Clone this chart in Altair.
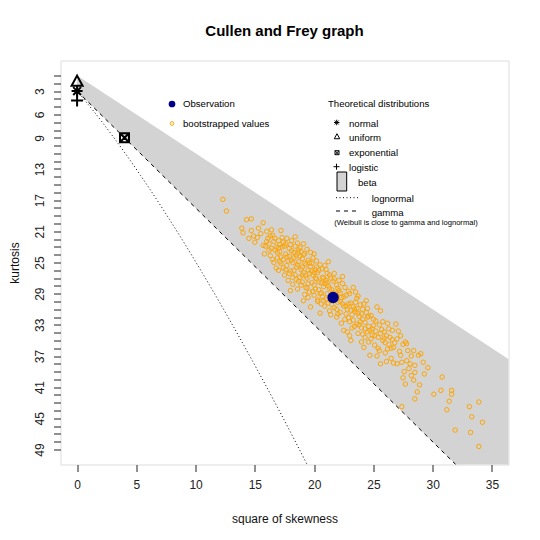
import altair as alt
import pandas as pd

FONT = "Liberation Sans"

title_text = "Cullen and Frey graph"
x_title = "square of skewness"
y_title = "kurtosis"

# observed distribution
obs_s2 = [21.6]
obs_kurt = [29.5]

# bootstrapped values (square of skewness, kurtosis)
boot_pairs = [
    (12.3, 16.9), (12.6, 18.4), (13.9, 20.6), (14.0, 21.2), (14.3, 19.5), (14.5, 21.9),
    (14.7, 20.9), (14.7, 19.4), (14.9, 21.6), (15.0, 22.4), (15.3, 20.6), (15.5, 21.3),
    (15.7, 19.9), (15.7, 22.8), (15.8, 23.9), (16.0, 21.0), (16.1, 21.9), (16.2, 22.6),
    (16.3, 24.1), (16.4, 23.2), (16.5, 21.5), (16.6, 25.0), (16.7, 21.9), (16.8, 23.0),
    (16.9, 24.4), (17.0, 22.2), (17.0, 26.0), (17.1, 23.6), (17.2, 25.1), (17.3, 21.8),
    (17.4, 24.6), (17.5, 22.9), (17.5, 26.6), (17.6, 23.9), (17.7, 21.9), (17.7, 25.4),
    (17.8, 27.3), (17.9, 24.2), (18.0, 22.7), (18.0, 26.1), (18.1, 23.5), (18.2, 25.0),
    (18.2, 27.8), (18.3, 24.4), (18.4, 22.9), (18.4, 26.6), (18.5, 25.6), (18.6, 23.8),
    (18.6, 28.4), (18.7, 24.9), (18.8, 26.9), (18.8, 23.1), (18.9, 25.9), (19.0, 27.5),
    (19.0, 24.5), (19.1, 29.9), (19.1, 26.3), (19.2, 23.9), (19.3, 28.2), (19.3, 25.3),
    (19.4, 27.0), (19.5, 24.7), (19.5, 26.0), (19.6, 28.8), (19.7, 30.7), (19.7, 25.5),
    (19.8, 27.6), (19.9, 26.6), (19.9, 24.4), (20.0, 29.2), (20.0, 27.9), (20.1, 25.9),
    (20.2, 27.1), (20.3, 30.0), (20.3, 26.3), (20.4, 28.5), (20.5, 31.5), (20.5, 25.3),
    (20.6, 27.6), (20.7, 29.4), (20.7, 26.9), (20.8, 28.1), (20.9, 30.6), (21.0, 27.3),
    (21.0, 25.9), (21.1, 29.0), (21.2, 28.0), (21.3, 31.2), (21.3, 26.6), (21.4, 29.9),
    (21.5, 28.5), (21.6, 27.4), (21.7, 30.8), (21.8, 29.0), (21.9, 32.0), (21.9, 27.9),
    (22.0, 30.1), (22.1, 28.6), (22.2, 31.4), (22.3, 29.5), (22.4, 27.7), (22.5, 33.7),
    (22.5, 30.6), (22.6, 32.3), (22.7, 29.2), (22.8, 31.0), (22.9, 28.7), (23.0, 32.6),
    (23.1, 35.0), (23.1, 30.2), (23.2, 31.7), (23.3, 28.2), (23.3, 30.7), (23.4, 33.2),
    (23.5, 31.3), (23.6, 32.9), (23.6, 29.6), (23.7, 34.1), (23.8, 31.9), (23.9, 30.4),
    (24.0, 33.4), (24.1, 32.3), (24.2, 30.3), (24.2, 35.9), (24.3, 34.6), (24.4, 31.4),
    (24.5, 32.0), (24.5, 33.9), (24.6, 35.2), (24.7, 33.7), (24.7, 36.9), (24.8, 31.8),
    (24.9, 34.3), (25.0, 33.1), (25.1, 35.6), (25.2, 32.5), (25.3, 30.7), (25.4, 34.6),
    (25.5, 36.3), (25.6, 31.2), (25.6, 38.0), (25.7, 33.6), (25.8, 35.0), (25.9, 33.9),
    (26.0, 36.6), (26.1, 34.4), (26.2, 32.8), (26.3, 35.5), (26.4, 34.6), (26.5, 37.3),
    (26.6, 33.7), (26.7, 35.9), (26.9, 32.9), (27.0, 38.0), (27.0, 34.8), (27.2, 36.4),
    (27.3, 34.4), (27.3, 36.9), (27.4, 37.8), (27.4, 43.5), (27.5, 35.5), (27.6, 39.0),
    (27.7, 35.2), (27.7, 40.6), (27.8, 35.4), (27.8, 37.6), (27.9, 36.3), (28.0, 38.6),
    (28.1, 38.0), (28.2, 37.0), (28.4, 36.3), (28.4, 40.1), (28.5, 38.2), (28.5, 39.1),
    (28.5, 42.5), (28.7, 41.6), (28.8, 36.9), (29.0, 36.7), (29.3, 39.3), (29.6, 38.5),
    (30.1, 41.9), (30.7, 41.4), (30.8, 39.7), (31.2, 43.9), (31.4, 42.8), (31.6, 41.4),
    (31.6, 41.9), (31.9, 46.5), (33.1, 43.5), (33.2, 46.8), (33.3, 44.8), (33.9, 42.9),
    (33.9, 48.6), (34.2, 45.5),
    (16.2, 23.4), (16.6, 22.3), (16.9, 23.7), (17.1, 24.9), (17.3, 23.0), (17.6, 25.9),
    (17.9, 23.2), (18.1, 24.7), (18.3, 26.0), (18.5, 24.1), (18.7, 27.4), (18.9, 23.6),
    (19.0, 26.6), (19.2, 25.1), (19.4, 28.3), (19.6, 26.4), (19.8, 25.1), (19.9, 28.7),
    (20.1, 27.0), (20.2, 24.8), (20.4, 26.0), (20.6, 28.9), (20.8, 27.0), (21.0, 29.7),
    (21.1, 26.4), (21.3, 28.3), (21.5, 30.4), (21.7, 27.1), (21.8, 29.6), (22.0, 28.3),
    (22.2, 30.0), (22.3, 32.8), (22.5, 29.4), (22.7, 31.6), (22.9, 30.3), (23.0, 29.0),
    (23.2, 33.4), (23.4, 31.0), (23.6, 30.9), (23.8, 33.0), (24.0, 31.6), (24.1, 34.2),
    (24.3, 32.7), (24.5, 30.9), (24.6, 33.2), (24.8, 34.8), (25.0, 32.3), (25.2, 33.8),
    (25.4, 36.0), (25.6, 34.1), (25.8, 32.6), (26.0, 35.3), (26.3, 33.5), (26.5, 36.0),
    (26.8, 35.3), (27.1, 33.8), (17.4, 22.4), (18.0, 28.6), (18.6, 22.5), (19.2, 29.1),
    (19.7, 23.7), (20.3, 29.8), (20.9, 25.4), (21.4, 31.7), (22.1, 27.3), (22.8, 33.9),
    (23.5, 28.8), (24.0, 35.2), (24.4, 29.9), (25.3, 37.0), (15.2, 21.8), (15.9, 22.9),
    (16.4, 20.8), (16.8, 25.7), (17.2, 20.9), (17.7, 24.3), (18.4, 21.7), (19.1, 22.6),
    (19.5, 29.5), (20.0, 23.9), (20.6, 30.3), (21.2, 24.9), (21.9, 31.0), (22.4, 26.8),
    (23.0, 34.4), (23.7, 29.3), (26.1, 37.7), (26.7, 37.9), (27.5, 39.8), (28.2, 39.5),
    (29.2, 37.8), (28.9, 40.7),
    (16.0, 22.3), (16.3, 21.6), (16.5, 24.6), (16.7, 23.4), (17.0, 23.1), (17.2, 24.3),
    (17.4, 25.7), (17.6, 22.6), (17.8, 24.8), (17.9, 26.4), (18.1, 22.2), (18.2, 26.9),
    (18.3, 23.7), (18.5, 27.2), (18.6, 25.3), (18.7, 23.4), (18.9, 27.9), (19.0, 25.6),
    (19.1, 24.0), (19.3, 26.7), (19.4, 23.3), (19.5, 27.7), (19.6, 25.0), (19.8, 26.1),
    (20.0, 26.3), (20.1, 28.4), (20.2, 25.6), (20.4, 27.5), (20.5, 29.0), (20.7, 25.8),
    (20.8, 29.9), (20.9, 27.7), (21.1, 27.6), (21.2, 30.2), (21.4, 27.0), (21.6, 28.9),
    (21.7, 26.4), (21.9, 29.3), (22.0, 31.6), (22.2, 28.9), (22.4, 30.3), (22.6, 28.2),
    (22.7, 30.6), (22.9, 32.1), (23.1, 31.1), (23.3, 32.4), (23.5, 30.1), (23.7, 31.5),
    (23.9, 32.6), (24.1, 31.0), (24.3, 33.5), (24.6, 31.9), (24.9, 33.5), (25.1, 34.4),
    (25.5, 33.0), (25.9, 34.7), (26.2, 36.1), (26.6, 34.9), (17.1, 22.7), (18.8, 24.2),
]

# theoretical distributions
theo_names = ["normal", "uniform", "exponential", "logistic"]
theo_s2 = [0, 0, 4, 0]
theo_kurt = [3, 1.8, 9, 4.2]

# beta region (upper and lower boundary)
beta_s2 = [0, 40]
beta_upper = [1, 41]
beta_lower = [3, 63]

# gamma line
gamma_s2 = [0, 40]
gamma_kurt = [3, 63]

# lognormal curve
lognorm_s2 = [0, 0.229, 0.465, 0.961, 1.488, 2.048, 2.64, 3.267, 3.928, 4.624, 5.356,
              6.125, 6.931, 7.776, 8.66, 9.583, 10.547, 11.552, 12.599, 13.689, 14.822,
              16.0, 17.223, 18.491, 19.806]
lognorm_kurt = [3, 3.41, 3.84, 4.76, 5.76, 6.85, 8.04, 9.32, 10.71, 12.21, 13.83,
                15.56, 17.43, 19.43, 21.56, 23.85, 26.29, 28.88, 31.64, 34.58, 37.70,
                41.0, 44.5, 48.2, 52.11]

x_ticks = [0, 5, 10, 15, 20, 25, 30, 35]
y_ticks = list(range(1, 50))
y_labels = [3, 6, 9, 13, 17, 21, 25, 29, 33, 37, 41, 45, 49]

x_domain = [-1.4, 36.4]
y_domain = [-0.92, 50.92]

W, H = 448, 404
OX, OY = 60.5, 60.5  # plot origin on the page

label_expr = "indexof([" + ",".join(str(v) for v in y_labels) + "], datum.value) >= 0 ? datum.label : ''"

X = alt.X("s2:Q", scale=alt.Scale(domain=x_domain, nice=False, zero=False),
          axis=alt.Axis(values=x_ticks, title=x_title, grid=False, domain=False,
                        tickSize=7, tickColor="#222", labelColor="#222",
                        labelFontSize=12, labelFont=FONT, labelPadding=8,
                        titleFont=FONT, titleFontSize=12, titleFontWeight="normal",
                        titleColor="#111", titleX=W / 2, titleY=57.5,
                        titleBaseline="alphabetic", titleAlign="center",
                        labelFlush=False, labelOverlap=False))
Y = alt.Y("kurt:Q", scale=alt.Scale(domain=y_domain, nice=False, zero=False, reverse=True),
          axis=alt.Axis(values=y_ticks, labelExpr=label_expr, title=y_title, grid=False,
                        domain=False, tickSize=7, tickColor="#222", labelColor="#222",
                        labelFontSize=12, labelFont=FONT, labelAngle=270,
                        labelAlign="center", labelBaseline="alphabetic", labelPadding=10.5,
                        labelOverlap=False, labelFlush=False,
                        titleFont=FONT, titleFontSize=12, titleFontWeight="normal",
                        titleColor="#111", titleAngle=270, titleX=-46, titleY=H / 2,
                        titleAlign="center", titleBaseline="middle"))

beta_df = pd.DataFrame({"s2": beta_s2, "kurt": beta_upper, "kurt2": beta_lower})
gamma_df = pd.DataFrame({"s2": gamma_s2, "kurt": gamma_kurt})
logn_df = pd.DataFrame({"s2": lognorm_s2, "kurt": lognorm_kurt})
boot_df = pd.DataFrame(boot_pairs, columns=["s2", "kurt"])
obs_df = pd.DataFrame({"s2": obs_s2, "kurt": obs_kurt})
theo_df = pd.DataFrame({"name": theo_names, "s2": theo_s2, "kurt": theo_kurt})

ASTER = "M-1,0L1,0M0,-1L0,1M-0.71,-0.71L0.71,0.71M-0.71,0.71L0.71,-0.71"
TRI = "M0,-1.1L1,0.75L-1,0.75Z"
SQX = "M-1,-1L1,-1L1,1L-1,1ZM-1,-1L1,1M-1,1L1,-1"
PLUS = "M-1,0L1,0M0,-1L0,1"
shapes = {"normal": (ASTER, 121), "uniform": (TRI, 121), "exponential": (SQX, 81), "logistic": (PLUS, 144)}

layers = []
layers.append(alt.Chart(beta_df).mark_area(color="#D3D3D3", clip=True).encode(
    x=X, y=Y, y2=alt.Y2("kurt2:Q")))
layers.append(alt.Chart(logn_df).mark_line(color="black", strokeWidth=1, strokeDash=[1, 2.5],
                                           clip=True, interpolate="monotone").encode(x=X, y=Y))
layers.append(alt.Chart(gamma_df).mark_line(color="black", strokeWidth=1, strokeDash=[4, 4],
                                            clip=True).encode(x=X, y=Y))
layers.append(alt.Chart(boot_df).mark_point(shape="circle", filled=False, color="#FFA500",
                                            strokeWidth=1, size=20, opacity=1).encode(x=X, y=Y))
layers.append(alt.Chart(obs_df).mark_point(shape="circle", filled=True, color="#00008B",
                                           size=130, opacity=1).encode(x=X, y=Y))
for name in theo_names:
    path, sz = shapes[name]
    layers.append(alt.Chart(theo_df[theo_df["name"] == name]).mark_point(
        shape=path, filled=False, color="black", strokeWidth=2, size=sz, opacity=1
    ).encode(x=X, y=Y))


def px(v):
    return v - OX


def py(v):
    return v - OY


def ltext(label, x, y, size=9.6):
    return alt.Chart(pd.DataFrame({"t": [label]})).mark_text(
        align="left", baseline="middle", font=FONT, fontSize=size, color="black"
    ).encode(x=alt.value(px(x)), y=alt.value(py(y)), text="t:N")


def lsym(shape, x, y, size, color="black", filled=False, sw=1):
    return alt.Chart(pd.DataFrame({"t": [0]})).mark_point(
        shape=shape, filled=filled, color=color, size=size, strokeWidth=sw, opacity=1
    ).encode(x=alt.value(px(x)), y=alt.value(py(y)))


legend_layers = [
    lsym("circle", 172, 104, 45, color="#00008B", filled=True),
    ltext("Observation", 183, 104),
    lsym("circle", 172, 123.5, 14, color="#FFA500"),
    ltext("bootstrapped values", 183, 123.5),
    ltext("Theoretical distributions", 328, 104),
    lsym(ASTER, 336.7, 122.5, 30),
    ltext("normal", 349, 124),
    lsym(TRI, 337, 136.7, 30),
    ltext("uniform", 349, 137.7),
    lsym(SQX, 337, 152.7, 16),
    ltext("exponential", 349, 153.3),
    lsym(PLUS, 336.5, 166.7, 36),
    ltext("logistic", 349, 168.3),
    alt.Chart(pd.DataFrame({"t": [0]})).mark_rect(fill="#D3D3D3", stroke="black", strokeWidth=1).encode(
        x=alt.value(px(337)), x2=alt.value(px(346.7)), y=alt.value(py(172)), y2=alt.value(py(191))),
    ltext("beta", 358, 183.3),
    alt.Chart(pd.DataFrame({"t": [0]})).mark_rule(color="black", strokeWidth=1, strokeDash=[1, 2.5]).encode(
        x=alt.value(px(336)), x2=alt.value(px(360)), y=alt.value(py(197.7))),
    ltext("lognormal", 371.7, 198.7),
    alt.Chart(pd.DataFrame({"t": [0]})).mark_rule(color="black", strokeWidth=1, strokeDash=[4, 4]).encode(
        x=alt.value(px(336)), x2=alt.value(px(360)), y=alt.value(py(211))),
    ltext("gamma", 371.7, 212.6),
    ltext("(Weibull is close to gamma and lognormal)", 334.3, 222.6, size=7.6),
]

chart = alt.layer(*layers, *legend_layers).properties(
    width=W, height=H,
    title=alt.Title(title_text, font=FONT, fontSize=15, fontWeight="bold", color="black",
                    anchor="middle", offset=9.5, baseline="alphabetic"),
    autosize=alt.AutoSizeParams(type="none"),
    padding={"left": OX - 8, "top": OY - 8, "right": 20, "bottom": 60},
).configure_view(stroke="black", strokeWidth=1).configure(font=FONT, background="white")

chart.save("out.html", embed_options={"renderer": "svg", "actions": False})
